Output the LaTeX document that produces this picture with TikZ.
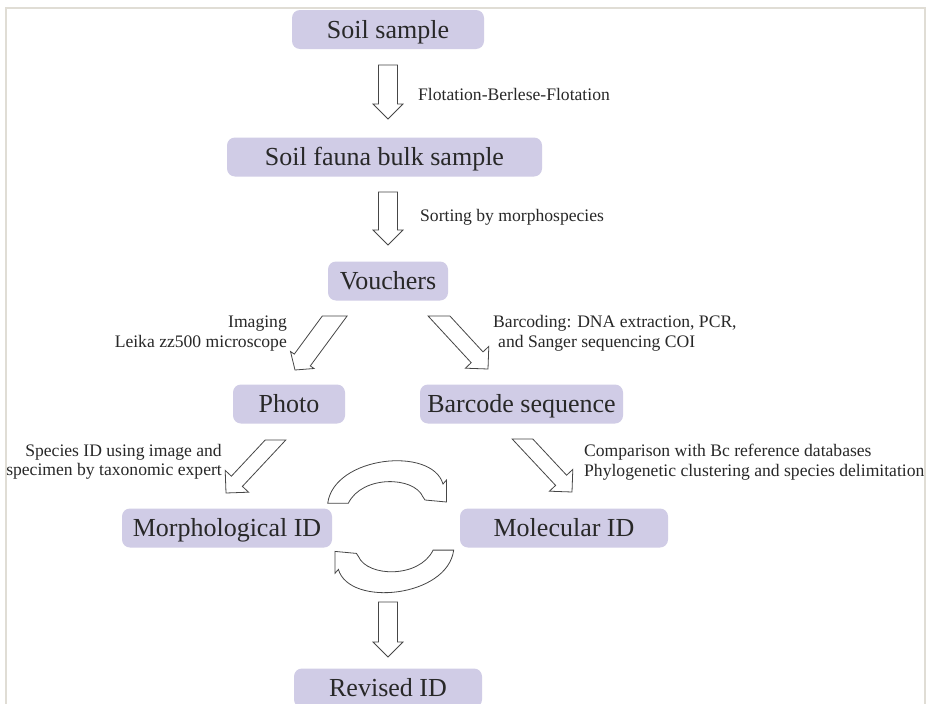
\documentclass[tikz,border=0pt]{standalone}
\usepackage{fontspec}
\setmainfont{Liberation Serif}
\usetikzlibrary{calc}
\definecolor{boxfill}{RGB}{208,204,230}
\definecolor{txt}{RGB}{40,40,40}
\definecolor{edgecol}{RGB}{70,70,70}
\definecolor{framecol}{RGB}{224,221,213}
\newcommand{\vblk}[3]{\draw[blk] (#1-9.5,#2) -- (#1+9.5,#2) -- (#1+9.5,#3-15) -- (#1+15,#3-15) -- (#1,#3) -- (#1-15,#3-15) -- (#1-9.5,#3-15) -- cycle;}
\newcommand{\curvarr}{(327.7,503.3) .. controls (334,456) and (432,446) .. (443,484) -- (446.5,480) -- (446.5,502) -- (425,500) -- (423,497) .. controls (414,476) and (362,475) .. (348.3,503.3) -- cycle}
\begin{document}
\begin{tikzpicture}[x=1pt,y=-1pt,
  box/.style={rectangle, rounded corners=8pt, fill=boxfill, text=txt, font=\fontsize{26}{30}\selectfont, inner sep=0pt, text height=17pt, text depth=0pt, minimum height=39pt, align=center},
  lbl/.style={text=txt, font=\fontsize{17.6}{19.5}\selectfont, inner sep=0pt},
  blk/.style={draw=edgecol, fill=white, line width=0.8pt, line join=miter}]
\useasboundingbox (0,0) rectangle (927,704);
\clip (0,0) rectangle (927,704);
\fill[white] (0,0) rectangle (927,704);
\draw[framecol, line width=1.5pt] (6,710) -- (6,8) -- (925,8) -- (925,710);

% boxes
\node[box, minimum width=192pt] (soil) at (388,29.5) {Soil sample};
\node[box, minimum width=315pt] (bulk) at (384.5,157) {Soil fauna bulk sample};
\node[box, minimum width=120pt] (vouch) at (388,281) {Vouchers};
\node[box, minimum width=112pt] (photo) at (289,404) {Photo};
\node[box, minimum width=203pt] (barcode) at (521.5,404) {Barcode sequence};
\node[box, minimum width=210pt] (morph) at (227,528) {Morphological ID};
\node[box, minimum width=208pt] (molec) at (564,528) {Molecular ID};
\node[box, minimum width=188pt] (revised) at (388,688) {Revised ID};

% vertical block arrows
\vblk{388}{65}{119}
\vblk{388}{192}{245}
\vblk{388}{602}{657}

% diagonal block arrows
\draw[blk] (322.3,316) -- (347.1,316) -- (310.3,365.9) -- (314,368.5) -- (295,370) -- (290.5,351.5) -- (294.3,354.1) -- cycle;
\draw[blk] (428.1,316) -- (449.9,316) -- (483.0,351.9) -- (488.8,346.4) -- (488,369) -- (465.4,368.2) -- (471.2,362.7) -- cycle;
\draw[blk] (265.2,440) -- (285.8,440) -- (242.4,486.4) -- (248.6,492.2) -- (226,493) -- (225.2,470.4) -- (231.4,476.2) -- cycle;
\draw[blk] (512.2,439) -- (532.8,439) -- (566.6,475.2) -- (572.8,469.4) -- (572,492) -- (549.4,491.2) -- (555.6,485.4) -- cycle;

% curved arrows
\draw[blk] \curvarr;
\begin{scope}[rotate around={180:(390.7,526.7)}]
\draw[blk] \curvarr;
\end{scope}

% labels
\node[lbl, anchor=west] (l1) at (418,94) {Flotation-Berlese-Flotation};
\node[lbl, anchor=west] (l2) at (420,217) {Sorting by morphospecies};
\node[lbl, anchor=east, align=right] (l3) at (287,333.5) {Imaging\\Leika zz500 microscope};
\node[lbl, anchor=west, align=left] (l4) at (493,333.5) {Barcoding: DNA extraction, PCR,\\\hspace*{5pt}and Sanger sequencing COI};
\node[lbl, anchor=east, align=right] (l5) at (222,462) {Species ID using image and\\specimen by taxonomic expert};
\node[lbl, anchor=west, align=left] (l6) at (584,462) {Comparison with Bc reference databases\\Phylogenetic clustering and species delimitation};
\end{tikzpicture}
\end{document}
